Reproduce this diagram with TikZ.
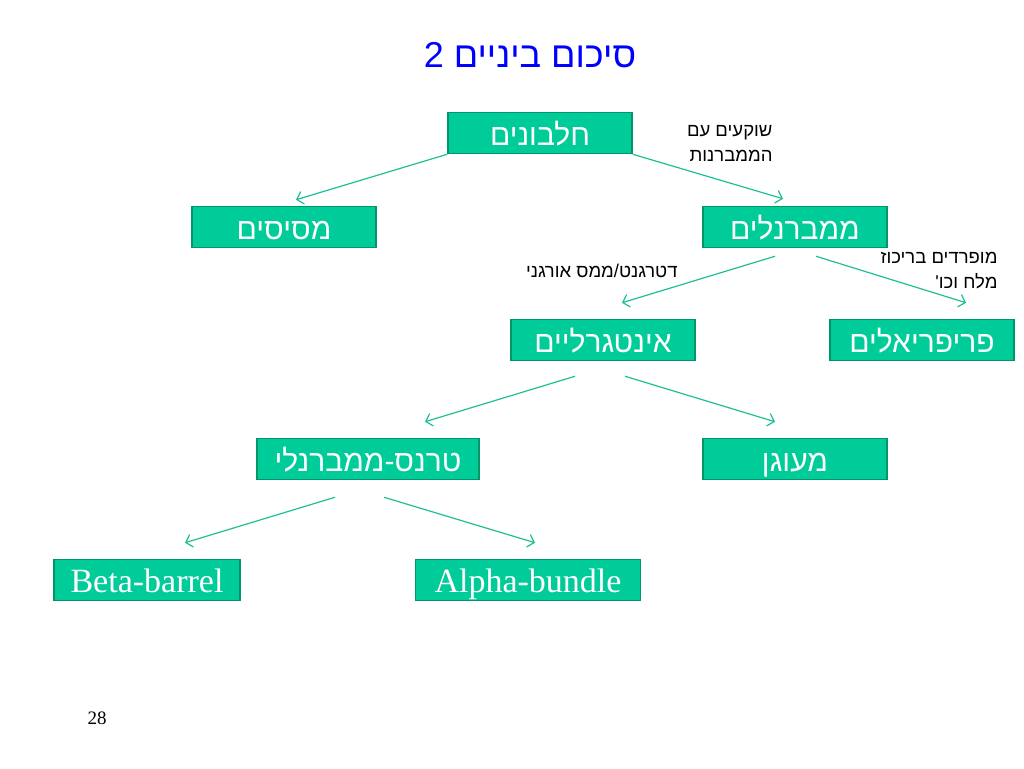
\documentclass[tikz,border=0pt]{standalone}
\usepackage{fontspec}
\setmainfont{Liberation Serif}
\newfontfamily\hebfont[Script=Hebrew]{Liberation Sans}
\usetikzlibrary{arrows.meta}
\TeXXeTstate=1

\definecolor{boxfill}{RGB}{0,204,153}
\definecolor{boxline}{RGB}{0,150,105}
\definecolor{arrline}{RGB}{30,190,150}

\tikzset{
  box/.style={rectangle, draw=boxline, line width=1.5pt, fill=boxfill, text=white,
    minimum width=184pt, minimum height=41pt, inner sep=0pt, text height=24pt, text depth=0pt},
  heb/.style={font=\hebfont\fontsize{30}{30}\selectfont},
  lat/.style={font=\fontsize{34}{34}\selectfont},
  lbl/.style={font=\hebfont\fontsize{18.5}{25}\selectfont, align=right, anchor=east},
  arr/.style={draw=arrline, line width=1.2pt, -{Straight Barb[length=6pt,width=13pt]}}
}

\begin{document}
\begin{tikzpicture}[x=1pt, y=-1pt]
    \useasboundingbox (0,0) rectangle (1024,768);

    % Title
    \node[font=\hebfont\fontsize{36}{36}\selectfont, text=blue] (title) at (530,55) {\beginR סיכום ביניים 2\endR};

    % Main components
    \node[box, heb] (prot) at (540,133) {\beginR חלבונים\endR};
    \node[box, heb] (sol) at (284,227) {\beginR מסיסים\endR};
    \node[box, heb] (memb) at (795,227) {\beginR ממברנלים\endR};
    \node[box, heb] (integ) at (603,340) {\beginR אינטגרליים\endR};
    \node[box, heb] (periph) at (922,340) {\beginR פריפריאלים\endR};
    \node[box, heb, minimum width=222pt] (trans) at (368,459) {\beginR טרנס-ממברנלי\endR};
    \node[box, heb] (anch) at (795,459) {\beginR מעוגן\endR};
    \node[box, lat, minimum width=186pt] (beta) at (147,580) {Beta-barrel};
    \node[box, lat, minimum width=225pt] (alpha) at (528,580) {Alpha-bundle};

    % Arrows
    \draw[arr] (prot.south west) -- ([shift={(12,-6)}]sol.north);
    \draw[arr] (prot.south east) -- ([shift={(-12,-7)}]memb.north);
    \draw[arr] ([shift={(-20,8)}]memb.south) -- ([shift={(19,-16)}]integ.north);
    \draw[arr] ([shift={(21,8)}]memb.south) -- ([shift={(44,-16)}]periph.north);
    \draw[arr] ([shift={(-28,15)}]integ.south) -- ([shift={(57,-16)}]trans.north);
    \draw[arr] ([shift={(22,15)}]integ.south) -- ([shift={(-20,-16)}]anch.north);
    \draw[arr] ([shift={(-33,17)}]trans.south) -- ([shift={(38,-16)}]beta.north);
    \draw[arr] ([shift={(16,17)}]trans.south) -- ([shift={(7,-16)}]alpha.north);

    % Labels
    \node[lbl] (sink) at (776,143) {\beginR שוקעים עם\endR\\\beginR הממברנות\endR};
    \node[lbl] (deterg) at (681,271) {\beginR דטרגנט/ממס אורגני\endR};
    \node[lbl] (salt) at (1001,271) {\beginR מופרדים בריכוז\endR\\\beginR מלח וכו'\endR};

    % Page number
    \node[font=\fontsize{19}{19}\selectfont] (page) at (97,718) {28};
\end{tikzpicture}
\end{document}
